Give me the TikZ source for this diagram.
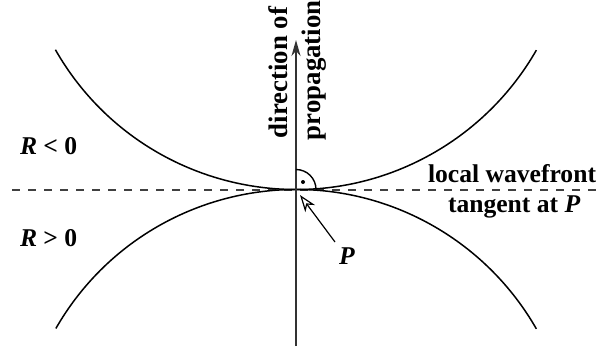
\documentclass[tikz,border=0pt]{standalone}
\usepackage{fontspec}
\setmainfont{Liberation Serif}
\usetikzlibrary{arrows.meta}
\begin{document}
\begin{tikzpicture}[x=0.5pt,y=0.5pt,
  lbl/.style={font=\fontsize{12.8}{15}\selectfont\bfseries, inner sep=0pt, outer sep=0pt},
  vlbl/.style={font=\fontsize{13.4}{15}\selectfont\bfseries, inner sep=0pt, outer sep=0pt},
  curve/.style={line width=0.75pt},
  axisline/.style={line width=0.9pt, draw=black!80},
  dashline/.style={line width=0.8pt, draw=black!75, dash pattern=on 4pt off 4pt}]
\useasboundingbox (0,0) rectangle (604,349);
% key coordinates
\coordinate (P) at (296,159.5);
\coordinate (bot) at (296,3);
\coordinate (top) at (296,309);
\coordinate (dl) at (12,159);
\coordinate (dr) at (598,159);
% tangent dashed line
\draw[dashline] (dl) -- (dr);
% wavefront arcs
\draw[curve] (P) ++(0,277) ++(209.7:277) arc[start angle=209.7, end angle=330.2, radius=277];
\draw[curve] (P) ++(0,-277) ++(150.1:277) arc[start angle=150.1, end angle=29.8, radius=277];
% propagation axis
\draw[axisline, -{Stealth[length=8pt,width=4.5pt,inset=2.5pt]}] (bot) -- (top);
% right angle mark
\draw[line width=0.7pt] (P) ++(0,20) arc[start angle=90, end angle=0, radius=20];
\fill (303,167) circle (2);
% labels
\node[vlbl, rotate=90, anchor=base west] (dir) at (287,211) {direction of};
\node[vlbl, rotate=90, anchor=base west] (prop) at (320,209) {propagation};
\node[lbl, anchor=base west] (rneg) at (20,195) {\textit{R} < 0};
\node[lbl, anchor=base west] (rpos) at (20,103) {\textit{R} > 0};
\node[lbl, anchor=base west] (lw) at (428,167) {local wavefront};
\node[lbl, anchor=base west] (tg) at (448,137) {tangent at \textit{P}};
\node[lbl, anchor=base west] (plbl) at (339,85) {\textit{P}};
% P pointer
\coordinate (ptail) at (335,107);
\coordinate (ptip) at (300,154);
\draw[line width=0.6pt, -{Stealth[open,length=8.5pt,width=6pt,inset=2.5pt,fill=white]}] (ptail) -- (ptip);
\end{tikzpicture}
\end{document}
